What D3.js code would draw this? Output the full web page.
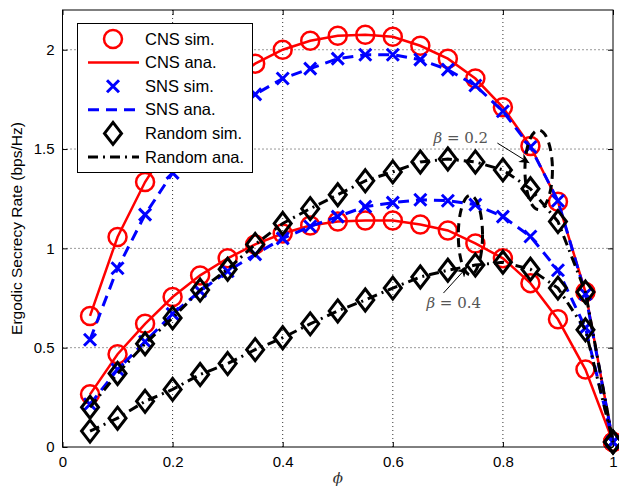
<!DOCTYPE html>
<html><head><meta charset="utf-8">
<script src="https://cdn.jsdelivr.net/npm/d3@7"></script>
<style>body{margin:0;background:#fff} svg{display:block}</style>
</head><body>
<svg id="c" width="619" height="489"></svg>
<script>
// ---------- data ----------
const phi = [0.05,0.10,0.15,0.20,0.25,0.30,0.35,0.40,0.45,0.50,0.55,0.60,0.65,0.70,0.75,0.80,0.85,0.90,0.95,1.00];
// beta = 0.2
const cnsB02 = [0.66,1.057,1.334,1.55,1.70,1.83,1.93,2.00,2.045,2.07,2.075,2.065,2.02,1.955,1.855,1.71,1.515,1.235,0.78,0.025];
const snsB02 = [0.54,0.90,1.17,1.38,1.53,1.66,1.775,1.855,1.905,1.955,1.975,1.975,1.95,1.90,1.82,1.69,1.51,1.24,0.77,0.025];
const rndB02 = [0.20,0.37,0.52,0.65,0.79,0.895,1.02,1.125,1.20,1.27,1.34,1.385,1.435,1.45,1.435,1.395,1.30,1.135,0.78,0.025];
// beta = 0.4
const cnsB04 = [0.265,0.467,0.62,0.755,0.864,0.95,1.02,1.075,1.115,1.135,1.14,1.14,1.12,1.09,1.025,0.95,0.825,0.643,0.39,0.025];
const snsB04 = [0.215,0.39,0.53,0.67,0.785,0.885,0.97,1.05,1.11,1.16,1.21,1.23,1.245,1.24,1.22,1.16,1.06,0.89,0.60,0.025];
const rndB04 = [0.08,0.145,0.23,0.29,0.365,0.42,0.49,0.55,0.62,0.685,0.74,0.80,0.856,0.89,0.916,0.93,0.895,0.80,0.59,0.025];

const xTicks = [0,0.2,0.4,0.6,0.8,1];
const yTicks = [0,0.5,1,1.5,2];
const legendLabels = ["CNS sim.","CNS ana.","SNS sim.","SNS ana.","Random sim.","Random ana."];
const betaLabels = ["0.2","0.4"];

// ---------- layout ----------
const svg = d3.select("#c");
const L = 62.5, R = 613, T = 10, B = 447;
const x = d3.scaleLinear().domain([0,1]).range([L,R]);
const y = d3.scaleLinear().domain([0,2.2]).range([B,T]);
const FONT = "'Liberation Sans', Arial, Helvetica, sans-serif";

// grid
const g = svg.append("g");
g.selectAll(".gx").data(xTicks.filter(d=>d>0&&d<1)).enter().append("line")
  .attr("x1",d=>x(d)).attr("x2",d=>x(d)).attr("y1",T).attr("y2",B)
  .attr("stroke","#333").attr("stroke-width",1).attr("stroke-dasharray","1,3");
g.selectAll(".gy").data(yTicks.filter(d=>d>0)).enter().append("line")
  .attr("y1",d=>y(d)).attr("y2",d=>y(d)).attr("x1",L).attr("x2",R)
  .attr("stroke","#333").attr("stroke-width",1).attr("stroke-dasharray","1,3");

// axes (inside ticks, box)
const xAxB = d3.axisBottom(x).tickValues(xTicks).tickSize(-5).tickPadding(9).tickFormat(d3.format("~g"));
const xAxT = d3.axisTop(x).tickValues(xTicks).tickSize(-5).tickFormat("");
const yAxL = d3.axisLeft(y).tickValues(yTicks).tickSize(-5).tickPadding(8).tickFormat(d3.format("~g"));
const yAxR = d3.axisRight(y).tickValues(yTicks).tickSize(-5).tickFormat("");
function styleAx(sel){
  sel.selectAll("path.domain").remove();
  sel.selectAll("line").attr("stroke","#000");
  sel.selectAll("text").attr("font-family",FONT).attr("font-size",15).attr("fill","#000");
}
svg.append("g").attr("transform",`translate(0,${B})`).call(xAxB).call(styleAx);
svg.append("g").attr("transform",`translate(0,${T})`).call(xAxT).call(styleAx);
svg.append("g").attr("transform",`translate(${L},0)`).call(yAxL).call(styleAx);
svg.append("g").attr("transform",`translate(${R},0)`).call(yAxR).call(styleAx);

// labels
svg.append("text").attr("x",(L+R)/2).attr("y",483).attr("text-anchor","middle")
  .attr("font-family","'DejaVu Serif', serif").attr("font-style","italic").attr("font-size",15).attr("fill","#333").text("ϕ");
svg.append("text").attr("transform",`translate(22,${(T+B)/2}) rotate(-90)`).attr("text-anchor","middle")
  .attr("font-family",FONT).attr("font-size",15.5).attr("fill","#000").text("Ergodic Secrecy Rate (bps/Hz)");

// ---------- series ----------
const plot = svg.append("g");
const line = d3.line().x(d=>x(d[0])).y(d=>y(d[1]));
const zip = arr => phi.map((p,i)=>[p,arr[i]]);

const styles = {
  cns:{color:"#ff0000", dash:null, w:2.5, marker:"circle"},
  sns:{color:"#0000ff", dash:"11,7", w:3, marker:"x"},
  rnd:{color:"#000000", dash:"10,5,2,5", w:3, marker:"diamond"}
};
function marker(sel, type, color){
  if(type==="circle"){
    sel.append("circle").attr("r",9).attr("fill","none").attr("stroke",color).attr("stroke-width",2.5);
  } else if(type==="x"){
    sel.append("path").attr("d","M-6,-6L6,6M-6,6L6,-6").attr("stroke",color).attr("stroke-width",3).attr("fill","none");
  } else {
    sel.append("path").attr("d","M0,-11L8.5,0L0,11L-8.5,0Z").attr("stroke",color).attr("stroke-width",3).attr("fill","none").attr("stroke-linejoin","miter");
  }
}
function drawSeries(arr, st){
  const pts = zip(arr);
  plot.append("path").attr("d",line(pts)).attr("fill","none").attr("stroke",st.color)
    .attr("stroke-width",st.w).attr("stroke-dasharray",st.dash);
  plot.selectAll(null).data(pts).enter().append("g")
    .attr("transform",d=>`translate(${x(d[0])},${y(d[1])})`)
    .each(function(){ marker(d3.select(this), st.marker, st.color); });
}
drawSeries(cnsB02, styles.cns);
drawSeries(cnsB04, styles.cns);
drawSeries(snsB02, styles.sns);
drawSeries(snsB04, styles.sns);
drawSeries(rndB02, styles.rnd);
drawSeries(rndB04, styles.rnd);

// ---------- annotations ----------
const ann = svg.append("g");
svg.append("defs").append("marker").attr("id","ah").attr("viewBox","0 0 10 10").attr("refX",10).attr("refY",5)
  .attr("markerWidth",10).attr("markerHeight",10).attr("orient","auto").attr("markerUnits","userSpaceOnUse")
  .append("path").attr("d","M0,0L10,5L0,10L3,5Z").attr("fill","#000");
function ellipse(cx,cy,rx,ry){
  ann.append("ellipse").attr("cx",x(cx)).attr("cy",y(cy)).attr("rx",x(cx+rx)-x(cx)).attr("ry",y(cy)-y(cy+ry))
    .attr("fill","none").attr("stroke","#000").attr("stroke-width",3).attr("stroke-dasharray","9,6");
}
ellipse(0.865,1.395,0.025,0.2);
ellipse(0.741,1.067,0.022,0.2);
function betaText(tx,ty,val){
  const t = ann.append("text").attr("x",x(tx)).attr("y",y(ty)).attr("font-family","'DejaVu Serif', serif")
    .attr("font-size",15).attr("fill","#555");
  t.append("tspan").attr("font-style","italic").text("β");
  t.append("tspan").text(" = " + val);
}
betaText(0.674,1.53,betaLabels[0]);
betaText(0.661,0.70,betaLabels[1]);
function arrow(x1,y1,x2,y2){
  ann.append("line").attr("x1",x(x1)).attr("y1",y(y1)).attr("x2",x(x2)).attr("y2",y(y2))
    .attr("stroke","#000").attr("stroke-width",1).attr("marker-end","url(#ah)");
}
arrow(0.79,1.53,0.848,1.43);
arrow(0.692,0.775,0.735,0.906);

// frame
svg.append("rect").attr("x",L).attr("y",T).attr("width",R-L).attr("height",B-T)
  .attr("fill","none").attr("stroke","#000").attr("stroke-width",1);

// ---------- legend ----------
const lg = svg.append("g");
lg.append("rect").attr("x",77.5).attr("y",23.5).attr("width",175).attr("height",149)
  .attr("fill","#fff").attr("stroke","#000").attr("stroke-width",1);
const legItems = [
  {s:styles.cns, kind:"m"},{s:styles.cns, kind:"l"},
  {s:styles.sns, kind:"m"},{s:styles.sns, kind:"l"},
  {s:styles.rnd, kind:"m"},{s:styles.rnd, kind:"l"}
];
legItems.forEach((it,i)=>{
  const cy = 39 + i*23.6;
  if(it.kind==="m"){
    const gg = lg.append("g").attr("transform",`translate(113,${cy})`);
    marker(gg, it.s.marker, it.s.color);
  } else {
    lg.append("line").attr("x1",88).attr("x2",139).attr("y1",cy).attr("y2",cy)
      .attr("stroke",it.s.color).attr("stroke-width",it.s.w).attr("stroke-dasharray",it.s.dash);
  }
  lg.append("text").attr("x",145).attr("y",cy+5.5).attr("font-family",FONT).attr("font-size",16.5)
    .attr("fill","#000").text(legendLabels[i]);
});
</script>
</body></html>
